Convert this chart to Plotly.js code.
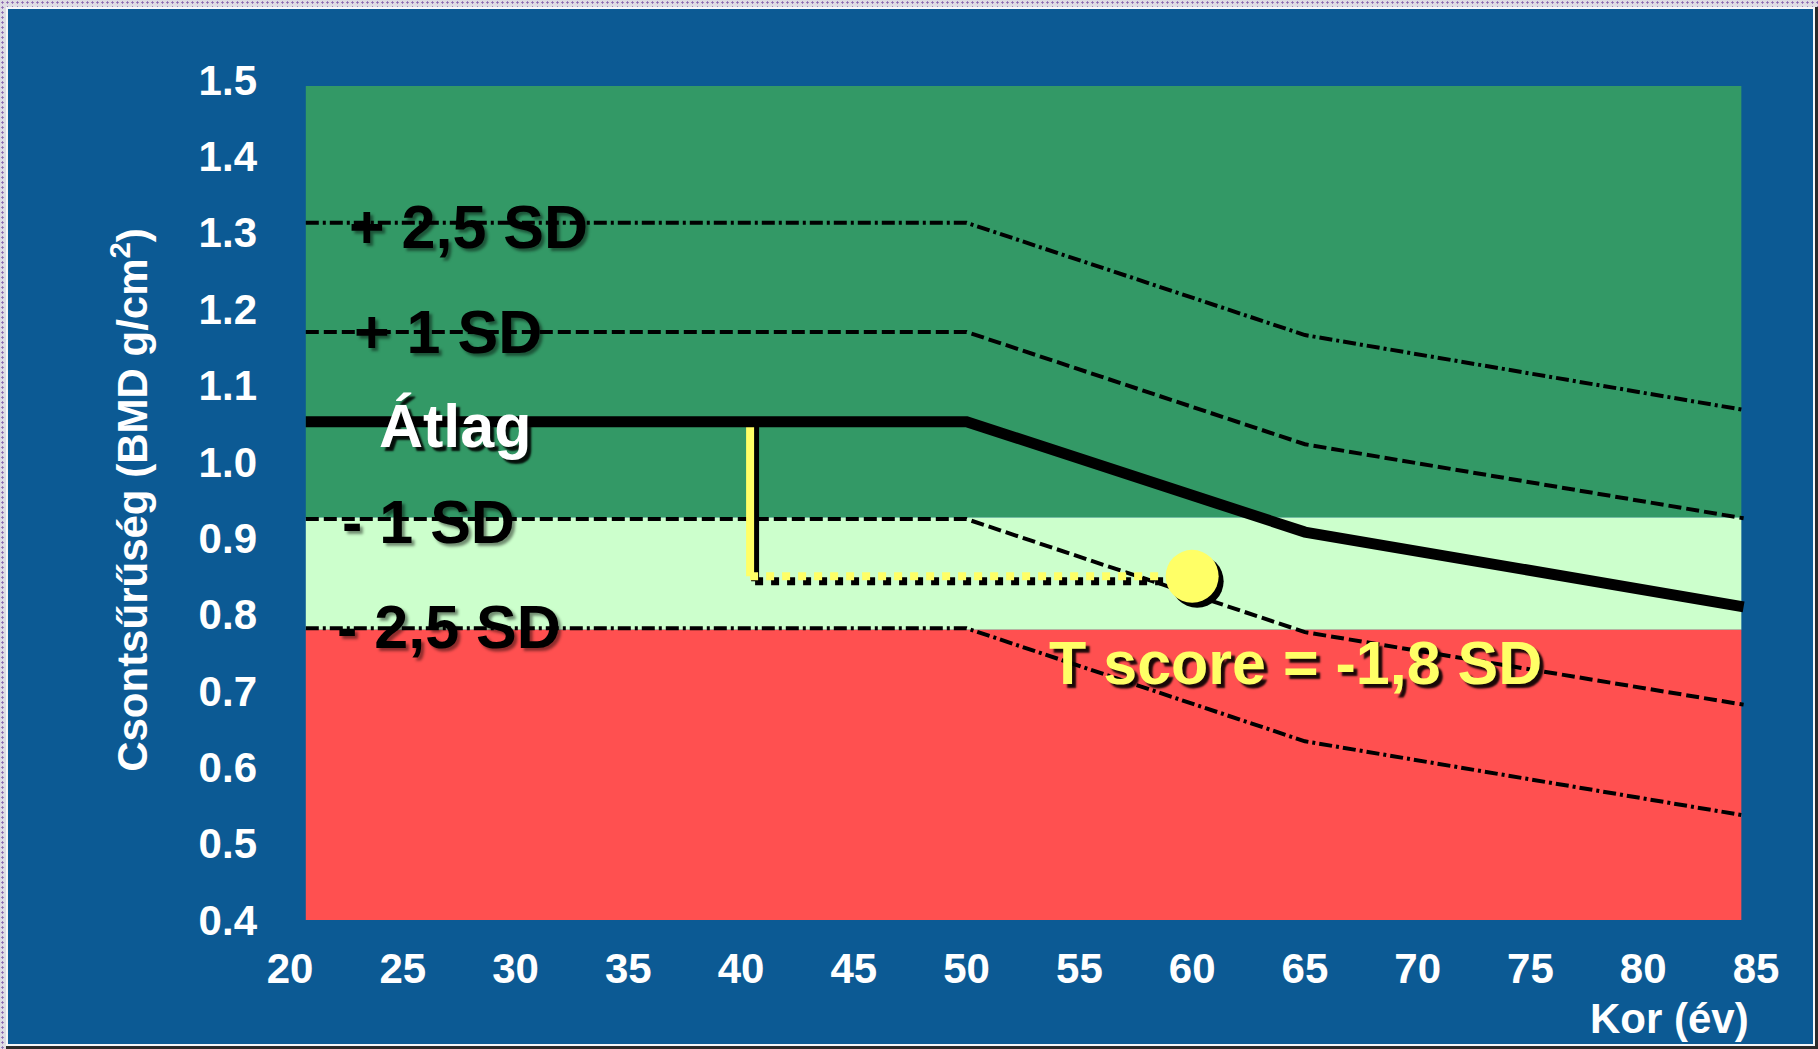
<!DOCTYPE html>
<html>
<head>
<meta charset="utf-8">
<script src="https://cdn.plot.ly/plotly-3.0.1.min.js"></script>
<style>
  html, body { margin: 0; padding: 0; }
  body {
    width: 1818px; height: 1049px; overflow: hidden; position: relative;
    background-color: #dedde3;
    background-image: radial-gradient(circle, #8a66b0 0.9px, transparent 1.3px);
    background-size: 5px 5px;
  }
  #frame { position: absolute; left: 6px; top: 7px; width: 1812px; height: 1042px; background: #2b2b2b; }
  #panel { position: absolute; left: 0; top: 0; width: 1809px; height: 1039px; background: #f4f6f8; }
  #blue  { position: absolute; left: 2px; top: 2px; width: 1805px; height: 1035px; background: #0c5a94; }
  #chart { position: absolute; left: 0; top: 0; width: 1818px; height: 1049px; }
  /* drop shadows behind the white and yellow labels */
  g.annotation[data-index="2"] text,
  g.annotation[data-index="5"] text { text-shadow: 4px 4px 2px rgba(0,0,0,0.9); }
  g.annotation[data-index="0"] text,
  g.annotation[data-index="1"] text,
  g.annotation[data-index="3"] text,
  g.annotation[data-index="4"] text { text-shadow: 3px 3px 3px rgba(0,0,0,0.45); }
</style>
</head>
<body>
<div id="frame"><div id="panel"><div id="blue"></div></div></div>
<div id="chart"></div>
<script>
// Age breakpoints of the reference curves (years)
const ages = [20.7, 50, 65, 84.45];

// Bone mineral density curves, g/cm²
const plus25SD  = [1.313, 1.313, 1.166, 1.068];
const plus1SD   = [1.170, 1.170, 1.023, 0.926];
const meanBMD   = [1.0525, 1.0525, 0.908, 0.810];
const minus1SD  = [0.925, 0.925, 0.777, 0.682];
const minus25SD = [0.782, 0.782, 0.634, 0.537];

// Diagnostic zones (BMD limits) and their age span
const zoneAges   = [20.7, 84.35];
const normalZone = [0.927, 1.492];
const osteopenia = [0.780, 0.927];
const osteoporosis = [0.4, 0.780];

// Patient measurement
const refAge = 40.4;
const patientAge = 60;
const patientBMD = 0.85;
const tScore = -1.8;

// Axis ticks
const xTicks = [20, 25, 30, 35, 40, 45, 50, 55, 60, 65, 70, 75, 80, 85];
const yTicks = [0.4, 0.5, 0.6, 0.7, 0.8, 0.9, 1.0, 1.1, 1.2, 1.3, 1.4, 1.5];

const W = 1818, H = 1049;
const margin = { l: 290, r: 62, t: 80, b: 129, pad: 0 };
const xRange = [20, 85], yRange = [0.4, 1.5];
const plotW = W - margin.l - margin.r, plotH = H - margin.t - margin.b;
// shadow offset of the yellow marks: 5px right, 5px down
const dx = 5 * (xRange[1] - xRange[0]) / plotW;
const dy = -5 * (yRange[1] - yRange[0]) / plotH;

const FONT = 'Liberation Sans, Arial, Helvetica, sans-serif';
const YELLOW = '#ffff66';

function curve(y, dash, width) {
  return { x: ages, y: y, type: 'scatter', mode: 'lines', hoverinfo: 'skip',
           line: { color: '#000', width: width, dash: dash, shape: 'linear' } };
}

const traces = [
  curve(plus25SD, '13px,4px,3px,4px', 4),
  curve(plus1SD, '13px,5px', 4),
  curve(minus1SD, '13px,5px', 4),
  curve(minus25SD, '13px,4px,3px,4px', 4),
  // shadows of the yellow marks
  { x: [refAge + dx, refAge + dx], y: [patientBMD + dy, meanBMD[0] + dy], type: 'scatter', mode: 'lines',
    hoverinfo: 'skip', line: { color: '#000', width: 8 } },
  { x: [refAge + dx, patientAge + dx], y: [patientBMD + dy, patientBMD + dy], type: 'scatter', mode: 'lines',
    hoverinfo: 'skip', line: { color: '#000', width: 8, dash: '8px,8px' } },
  { x: [patientAge + dx], y: [patientBMD + dy], type: 'scatter', mode: 'markers', hoverinfo: 'skip',
    marker: { color: '#000', size: 53, line: { width: 0 } } },
  // yellow bracket and patient point
  { x: [refAge, refAge], y: [patientBMD, meanBMD[0]], type: 'scatter', mode: 'lines',
    hoverinfo: 'skip', line: { color: YELLOW, width: 8 } },
  { x: [refAge, patientAge], y: [patientBMD, patientBMD], type: 'scatter', mode: 'lines',
    hoverinfo: 'skip', line: { color: YELLOW, width: 8, dash: '8px,8px' } },
  { x: [patientAge], y: [patientBMD], type: 'scatter', mode: 'markers', hoverinfo: 'skip',
    marker: { color: YELLOW, size: 53, line: { width: 0 } } },
  curve(meanBMD, 'solid', 11)
];

function zone(lim, color) {
  return { type: 'rect', layer: 'below', xref: 'x', yref: 'y',
           x0: zoneAges[0], x1: zoneAges[1], y0: lim[0], y1: lim[1],
           fillcolor: color, line: { width: 0 } };
}

function label(text, x, y, color, size) {
  return { text: text, x: x, y: y, xref: 'x', yref: 'y', xanchor: 'left', yanchor: 'middle',
           showarrow: false, font: { family: FONT, size: size || 61, color: color, weight: 'bold' } };
}

const tickFont = { family: FONT, size: 42, color: '#ffffff', weight: 'bold' };

const layout = {
  width: W, height: H, autosize: false, margin: margin,
  paper_bgcolor: 'rgba(0,0,0,0)', plot_bgcolor: 'rgba(0,0,0,0)',
  showlegend: false,
  xaxis: {
    range: xRange, tickvals: xTicks, ticktext: xTicks.map(String),
    showgrid: false, zeroline: false, showline: false, ticks: '',
    tickfont: tickFont, ticklabelstandoff: 20, fixedrange: true
  },
  yaxis: {
    range: yRange, tickvals: yTicks, ticktext: yTicks.map(v => v.toFixed(1)),
    showgrid: false, zeroline: false, showline: false, ticks: '',
    tickfont: tickFont, ticklabelstandoff: 32, fixedrange: true,
    title: { text: 'Csontsűrűség (BMD g/cm<sup>2</sup>)', standoff: 37,
             font: { family: FONT, size: 42, color: '#ffffff', weight: 'bold' } }
  },
  shapes: [
    zone(normalZone, '#339966'),
    zone(osteopenia, '#ccffcc'),
    zone(osteoporosis, '#ff5050')
  ],
  annotations: [
    label('+ 2,5 SD', 22.53, 1.3075, '#000000'),
    label('+ 1 SD', 22.73, 1.170, '#000000'),
    label('Átlag', 23.84, 1.0475, '#ffffff'),
    label('- 1 SD', 22.22, 0.921, '#000000'),
    label('- 2,5 SD', 22.0, 0.7835, '#000000'),
    label('T score = ' + tScore.toFixed(1).replace('.', ',') + ' SD', 53.57, 0.7372, YELLOW),
    { text: 'Kor (év)', xref: 'paper', yref: 'paper', x: 0.9966, y: -0.1167,
      xanchor: 'right', yanchor: 'middle', showarrow: false,
      font: { family: FONT, size: 42, color: '#ffffff', weight: 'bold' } }
  ]
};

Plotly.newPlot('chart', traces, layout, { staticPlot: true, displayModeBar: false });
</script>
</body>
</html>
